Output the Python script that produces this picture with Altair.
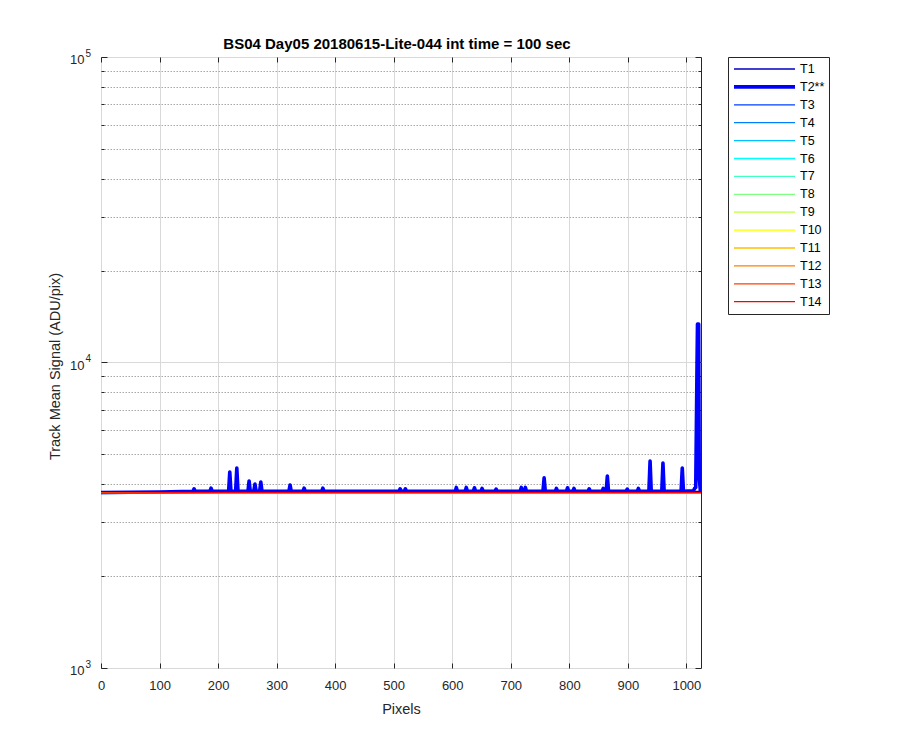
import altair as alt
import pandas as pd

# ---------------- data ----------------
SERIES = ["T1", "T2**", "T3", "T4", "T5", "T6", "T7", "T8", "T9", "T10",
          "T11", "T12", "T13", "T14"]
COLORS = ["#0000bf", "#0000ff", "#0040ff", "#0080ff", "#00bfff", "#00ffff",
          "#40ffbf", "#80ff80", "#bfff40", "#ffff00", "#ffbf00", "#ff8000",
          "#ff4000", "#ff0000"]
WIDTHS = [1.3, 3.6, 1.3, 1.3, 1.3, 1.3, 1.3, 1.3, 1.3, 1.3, 1.3, 1.3, 1.3, 1.3]

# flat tracks (pixel positions and signal values)
FLAT_X = [1, 200, 1024]
FLAT_Y = {
    "T1":  [3752, 3782, 3788],
    "T3":  [3728, 3748, 3752],
    "T4":  [3722, 3748, 3752],
    "T5":  [3728, 3748, 3752],
    "T6":  [3730, 3748, 3752],
    "T7":  [3730, 3748, 3752],
    "T8":  [3732, 3748, 3752],
    "T9":  [3732, 3748, 3752],
    "T10": [3734, 3748, 3752],
    "T11": [3734, 3748, 3752],
    "T12": [3735, 3748, 3752],
    "T13": [3735, 3748, 3752],
    "T14": [3736, 3748, 3752],
}

# T2** track: baseline points and narrow peaks
T2_BASE_X = [1, 100, 200, 1024]
T2_BASE_Y = [3755, 3770, 3785, 3790]
T2_PEAK_LEVEL = 3785
SPIKE_X = [159, 188, 220, 232, 253, 263, 273, 323, 347, 379, 511, 520, 607,
           624, 638, 651, 675, 718, 725, 757, 778, 797, 808, 834, 858, 865,
           899, 918, 938, 960, 993]
SPIKE_Y = [3860, 3880, 4380, 4510, 4095, 4000, 4060, 3970, 3880, 3880, 3860,
           3860, 3900, 3900, 3890, 3870, 3850, 3900, 3900, 4190, 3870, 3890,
           3870, 3860, 3870, 4250, 3850, 3870, 4760, 4690, 4515]
END_X = [1012, 1014, 1016, 1018, 1019, 1021, 1022, 1024]
END_Y = [3800, 3870, 3900, 9000, 13370, 13370, 4200, 3790]

X_TICKS = [0, 100, 200, 300, 400, 500, 600, 700, 800, 900, 1000]
Y_TICKS = [1000, 2000, 3000, 4000, 5000, 6000, 7000, 8000, 9000,
           10000, 20000, 30000, 40000, 50000, 60000, 70000, 80000, 90000,
           100000]

TITLE = "BS04 Day05 20180615-Lite-044 int time = 100 sec"

# ---------------- build table ----------------
rows = []
for order, name in enumerate(SERIES):
    if name == "T2**":
        pts = list(zip(T2_BASE_X, T2_BASE_Y))
        for c, p in zip(SPIKE_X, SPIKE_Y):
            pts += [(c - 2, T2_PEAK_LEVEL), (c, p), (c + 2, T2_PEAK_LEVEL)]
        pts = [q for q in pts if q[0] < END_X[0]]
        pts += list(zip(END_X, END_Y))
        pts.sort()
    else:
        pts = list(zip(FLAT_X, FLAT_Y[name]))
    for x, y in pts:
        rows.append({"series": name, "ord": order, "px": x, "signal": y})
df = pd.DataFrame(rows)

frame = pd.DataFrame({"px": [0, 1025], "signal": [1000, 100000]})

MAJOR = "datum.value == 1000 || datum.value == 10000 || datum.value == 100000"
FONT = "Liberation Sans"
AX = "#262626"

x_scale = alt.Scale(domain=[0, 1025], nice=False, zero=False)
y_scale = alt.Scale(type="log", domain=[1000, 100000], nice=False)

lines = alt.Chart(df).mark_line(clip=True, strokeJoin="round", strokeCap="round").encode(
    x=alt.X("px:Q", scale=x_scale, axis=alt.Axis(
        values=X_TICKS, format="d", title="Pixels", grid=True, gridColor="#d9d9d9",
        gridWidth=1, ticks=False, domain=False, labelPadding=11,
        labelFlush=False, labelFontSize=13, titleFontSize=14.5,
        titleY=45, titleBaseline="alphabetic")),
    y=alt.Y("signal:Q", scale=y_scale, axis=alt.Axis(
        values=Y_TICKS, title="Track Mean Signal (ADU/pix)", grid=True,
        gridColor={"condition": {"test": MAJOR, "value": "#d9d9d9"}, "value": "#a8a8a8"},
        gridDash={"condition": {"test": MAJOR, "value": []}, "value": [1.5, 1.5]},
        ticks=False, domain=False, labelOverlap=False, labelFlush=False,
        labelExpr="(" + MAJOR + ") ? '10' : ''",
        labelAlign="right", labelPadding=17, labelOffset=2.5, labelFontSize=13,
        titleFontSize=14.5, titleX=-42, titleY=309, titleAngle=270,
        titleBaseline="alphabetic", titleAlign="center")),
    color=alt.Color("series:N", sort=SERIES,
                    scale=alt.Scale(domain=SERIES, range=COLORS),
                    legend=alt.Legend(title=None, symbolType="stroke")),
    strokeWidth=alt.StrokeWidth("series:N", sort=SERIES,
                                scale=alt.Scale(type="ordinal", domain=SERIES, range=WIDTHS),
                                legend=alt.Legend(title=None, symbolType="stroke")),
    order=alt.Order("px:Q"),
)

tick_y = {"condition": {"test": MAJOR, "value": 6}, "value": 3}

inner1 = alt.Chart(frame).mark_point(opacity=0).encode(
    x=alt.X("px:Q", scale=x_scale, axis=alt.Axis(
        orient="top", offset=-611, values=X_TICKS, labels=False, ticks=True,
        tickSize=5, tickColor=AX, domain=False, grid=False, title=None)),
    y=alt.Y("signal:Q", scale=y_scale, axis=alt.Axis(
        orient="right", offset=-600, values=Y_TICKS, labels=False, ticks=True,
        tickSize=tick_y, tickColor=AX, domain=False, grid=False, title=None)),
)

inner2 = alt.Chart(frame).mark_point(opacity=0).encode(
    x=alt.X("px:Q", scale=x_scale, axis=alt.Axis(
        orient="bottom", offset=-611, values=X_TICKS, labels=False, ticks=True,
        tickSize=5, tickColor=AX, domain=False, grid=False, title=None)),
    y=alt.Y("signal:Q", scale=y_scale, axis=alt.Axis(
        orient="left", offset=-600, values=Y_TICKS, labels=False, ticks=True,
        tickSize=tick_y, tickColor=AX, domain=False, grid=False, title=None)),
)

expo = alt.Chart(frame).mark_point(opacity=0).encode(
    x=alt.X("px:Q", scale=x_scale, axis=None),
    y=alt.Y("signal:Q", scale=y_scale, axis=alt.Axis(
        orient="left", values=[1000, 10000, 100000], ticks=False, domain=False,
        grid=False, title=None, labelOverlap=False, labelFlush=False,
        labelExpr="datum.value == 1000 ? '3' : datum.value == 10000 ? '4' : '5'",
        labelAlign="left", labelPadding=16, labelOffset=-4, labelFontSize=10)),
)

chart = alt.layer(lines, inner1, inner2, expo).resolve_axis(
    x="independent", y="independent"
).properties(
    width=600, height=611,
    padding={"left": 93, "top": 49, "right": 170, "bottom": 60},
    autosize=alt.AutoSizeParams(type="none"),
    title=alt.Title(TITLE, fontSize=15, fontWeight="bold", font=FONT,
                    color="#000000", anchor="middle", baseline="alphabetic",
                    frame="group", offset=7, dx=-4, dy=23),
).configure_view(
    stroke=AX, strokeWidth=1
).configure_axis(
    labelFont=FONT, titleFont=FONT, labelColor=AX, titleColor=AX,
    titleFontWeight="normal"
).configure_legend(
    orient="none", legendX=627, legendY=0, padding=4,
    strokeColor=AX, fillColor="white", cornerRadius=0,
    labelFont=FONT, labelFontSize=12.5, labelColor="#000000",
    symbolSize=3721, symbolType="stroke", clipHeight=16, rowPadding=1.9,
    labelOffset=3,
)

chart.save("out.html", embed_options={"renderer": "svg", "actions": False})
